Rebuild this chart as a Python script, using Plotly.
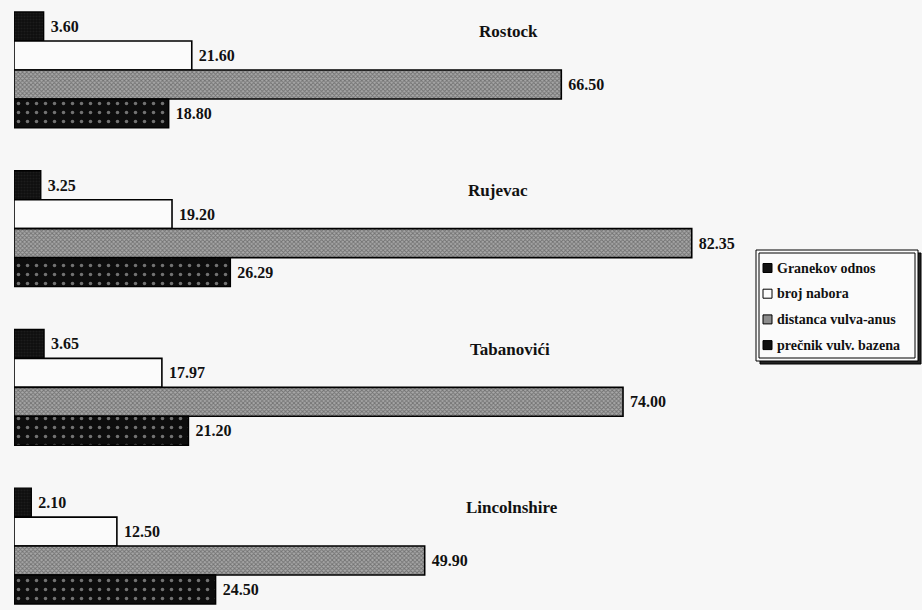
import plotly.graph_objects as go

# Localities (groups, top to bottom) and the four measured traits
locations = ["Rostock", "Rujevac", "Tabanovići", "Lincolnshire"]
series_names = ["Granekov odnos", "broj nabora", "distanca vulva-anus", "prečnik vulv. bazena"]

granekov_odnos = [3.60, 3.25, 3.65, 2.10]
broj_nabora = [21.60, 19.20, 17.97, 12.50]
distanca_vulva_anus = [66.50, 82.35, 74.00, 49.90]
precnik_vulv_bazena = [18.80, 26.29, 21.20, 24.50]

values = [granekov_odnos, broj_nabora, distanca_vulva_anus, precnik_vulv_bazena]

styles = [
    dict(color="#141414", line=dict(color="#000000", width=1.4),
         pattern=dict(shape=".", fgcolor="#2a2a2a", bgcolor="#0e0e0e", size=3, solidity=0.4)),
    dict(color="#fbfbfb", line=dict(color="#000000", width=1.6)),
    dict(color="#8a8a8a", line=dict(color="#000000", width=1.6),
         pattern=dict(shape="x", fgcolor="#3a3a3a", bgcolor="#a8a8a8", size=3, solidity=0.5)),
    dict(color="#0d0d0d", line=dict(color="#000000", width=1.4),
         pattern=dict(shape=".", fgcolor="#d8d8d8", bgcolor="#0d0d0d", size=9, solidity=0.12)),
]
legend_swatch = ["#111111", "#fbfbfb", "#8c8c8c", "#111111"]

BG = "#f7f7f7"
FONT = "Liberation Serif"
LEFT = 14
SCALE = 8.23  # pixels per unit along x
title_centres_px = [508, 498, 510, 512]  # horizontal centre of each locality title

fig = go.Figure()
ypos = list(range(len(locations)))
for name, vals, st in zip(series_names, values, styles):
    fig.add_trace(go.Bar(
        y=ypos, x=vals, orientation="h", name=name,
        marker=st,
        text=[f" {v:.2f}" for v in vals], textposition="outside",
        textfont=dict(family=FONT, size=16, color="#111111", weight="bold"),
        cliponaxis=False, showlegend=False,
    ))

# Locality titles placed above each group of bars
for i, (loc, cx) in enumerate(zip(locations, title_centres_px)):
    fig.add_annotation(x=(cx - LEFT) / SCALE, y=i - 0.24, text=f"<b>{loc}</b>", showarrow=False,
                       font=dict(family=FONT, size=17, color="#111111"),
                       xanchor="center", yanchor="middle")

# Legend box: double frame with a shadow, swatches and labels
W, H = 922.0, 610.0
def px(x):
    return (x - LEFT) / (W - LEFT)
def py(y):
    return 1 - y / H

fig.add_shape(type="rect", xref="paper", yref="paper", x0=px(760), x1=px(921),
              y0=py(364), y1=py(253), line=dict(color="#000000", width=1),
              fillcolor="#222222", layer="below")
fig.add_shape(type="rect", xref="paper", yref="paper", x0=px(756), x1=px(918),
              y0=py(361), y1=py(250), line=dict(color="#000000", width=1),
              fillcolor="#fbfbfb", layer="below")
fig.add_shape(type="rect", xref="paper", yref="paper", x0=px(759), x1=px(915),
              y0=py(358), y1=py(253), line=dict(color="#000000", width=1),
              fillcolor="rgba(0,0,0,0)", layer="below")

for k, (name, sw) in enumerate(zip(series_names, legend_swatch)):
    yc = 268 + k * 25.7
    fig.add_shape(type="rect", xref="paper", yref="paper",
                  x0=px(763), x1=px(772), y0=py(yc + 4.5), y1=py(yc - 4.5),
                  line=dict(color="#000000", width=1), fillcolor=sw)
    fig.add_annotation(xref="paper", yref="paper", x=px(775), y=py(yc),
                       text=f"<b>{name}</b>", showarrow=False,
                       xanchor="left", yanchor="middle",
                       font=dict(family=FONT, size=14, color="#111111"))

fig.update_layout(
    width=922, height=610,
    margin=dict(l=LEFT, r=0, t=0, b=0),
    paper_bgcolor=BG, plot_bgcolor=BG,
    barmode="group", bargap=0.27, bargroupgap=0.0,
    showlegend=False,
    xaxis=dict(range=[0, (W - LEFT) / SCALE], visible=False, fixedrange=True),
    yaxis=dict(range=[3.403, -0.441], visible=False, fixedrange=True),
)

fig.write_html("out.html")
